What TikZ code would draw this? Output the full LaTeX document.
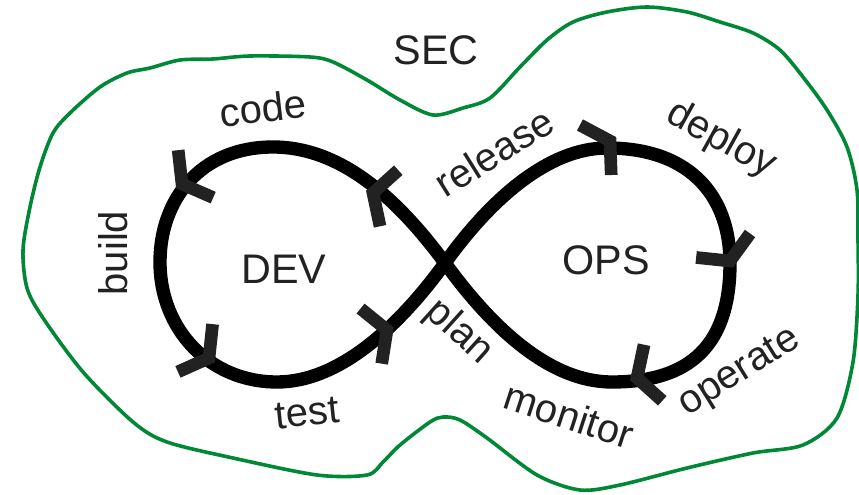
\documentclass[tikz,border=0pt]{standalone}
\usepackage{fontspec}
\setmainfont{Liberation Sans}
\definecolor{secgreen}{RGB}{0,136,55}
\definecolor{ink}{RGB}{34,34,34}
\tikzset{
  lbl/.style={font=\fontsize{30}{36}\selectfont, text=ink, inner sep=0pt},
  big/.style={font=\fontsize{31}{37}\selectfont, text=ink, inner sep=0pt},
  loopline/.style={draw=black, line width=10pt, line join=round},
  chev/.style={draw=ink, line width=9.5pt, line join=miter, line cap=butt},
  secline/.style={draw=secgreen, line width=2.7pt, line join=round},
}
\begin{document}
\begin{tikzpicture}[x=0.75pt, y=-0.75pt]
\path[fill=white] (0,0) rectangle (859,495);
\useasboundingbox (0,0) rectangle (859,495);

% SEC boundary
\draw[secline] plot[smooth cycle, tension=0.5] coordinates {
  (433,115) (463,108) (490,98) (520,67) (547,40) (573,22) (607,12) (647,7)
  (687,12) (720,22) (753,33) (780,50) (803,77) (827,110) (847,147) (857,190)
  (858,240) (858,295) (853,362) (837,418) (803,445) (753,453) (687,468)
  (620,485) (580,490) (537,475) (487,438) (460,420) (443,417) (430,422)
  (400,445) (383,462) (367,475) (317,475) (233,458) (167,442) (133,422)
  (83,372) (43,318) (27,288) (23,250) (30,207) (40,167) (53,133) (70,113)
  (100,87) (127,73) (150,68) (180,60) (213,59) (250,56) (310,57) (333,62)
  (367,80) (400,100)};

% infinity loop
\coordinate (X) at (445,263);
\draw[loopline] (X) .. controls (402,205) and (345,147) .. (273,147)
  .. controls (200,147) and (160,200) .. (160,262)
  .. controls (160,330) and (210,382) .. (277,382)
  .. controls (340,382) and (400,325) .. (X)
  .. controls (490,200) and (548,148) .. (607,148)
  .. controls (692,148) and (730,198) .. (730,263)
  .. controls (730,335) and (700,382) .. (612,382)
  .. controls (548,382) and (490,325) .. (X) -- cycle;

% direction chevrons
\foreach \px/\py/\ang in {182/184/-143.6, 373/193/162, 209/358/-36,
    387/330/21, 610/141/32, 730/261/-66, 637/378/-162}
  \draw[chev, shift={(\px,\py)}, rotate=\ang] (-17,-29.5) -- (0,0) -- (-17,29.5);

% labels
\node[big] (sec) at (436,50) {SEC};
\node[big] (dev) at (284,269) {DEV};
\node[big] (ops) at (606,260) {OPS};
\node[lbl, rotate=6.5] (code) at (263,108) {code};
\node[lbl, rotate=90] (build) at (113,253) {build};
\node[lbl, rotate=6] (test) at (307,413) {test};
\node[lbl, rotate=32] (release) at (494,152) {release};
\node[lbl, rotate=-29] (deploy) at (721,140) {deploy};
\node[lbl, rotate=-42] (plan) at (459,332) {plan};
\node[lbl, rotate=-18] (monitor) at (569,415) {monitor};
\node[lbl, rotate=32] (operate) at (740,373) {operate};
\end{tikzpicture}
\end{document}
